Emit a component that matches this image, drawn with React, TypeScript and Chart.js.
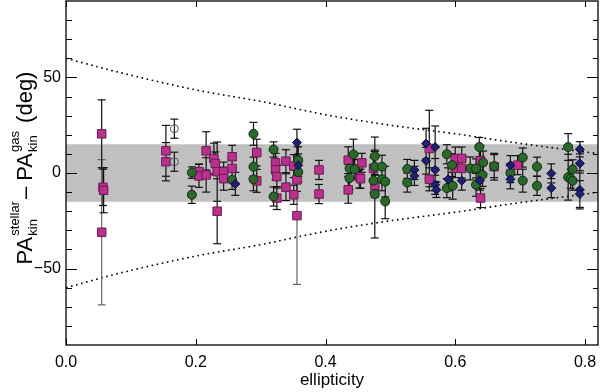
import React, { useEffect, useRef } from "react";
import { Chart, registerables } from "chart.js";

Chart.register(...registerables);

// ---------- axis / decoration values ----------
const xTicks = [0, 0.2, 0.4, 0.6, 0.8];
const yTicks = [-50, 0, 50];
const yMinor = [-80, -70, -60, -40, -30, -20, -10, 10, 20, 30, 40, 60, 70, 80];
const xRange = [0, 0.82];
const yRange = [-90, 90];
const bandHalfWidth = 15;

// dotted envelope
const envEcc = [0, 0.084, 0.207, 0.295, 0.408, 0.5, 0.6, 0.7, 0.8, 0.82];
const envUpper = [60, 52.5, 43, 37.8, 30, 25, 20.5, 15.5, 11, 10.2];
const envLower = [-60, -52.3, -43, -37.8, -30, -25, -20.5, -15.5, -11, -10];

// ---------- magenta squares ----------
const sqEcc = [0.055, 0.057, 0.058, 0.055, 0.154, 0.154, 0.205, 0.205, 0.216, 0.216, 0.228, 0.23, 0.233, 0.233,
  0.243, 0.243, 0.256, 0.256, 0.294, 0.294, 0.323, 0.323, 0.325, 0.325, 0.339, 0.339, 0.351, 0.351, 0.356, 0.356,
  0.39, 0.39, 0.435, 0.435, 0.456, 0.452, 0.454, 0.474, 0.476, 0.56, 0.56, 0.6, 0.6, 0.61, 0.61, 0.639, 0.639, 0.66, 0.696];
const sqDpa = [20.5, -7.5, -9, -31, 11.6, 5.9, 0.7, -1.5, 11.6, -1, 7.6, 5, 0.7, -20,
  0.7, -3, 8.5, 2.4, 10.7, -4.1, 5.3, 1.6, -1.9, -13.1, 6.2, -7.4, 3.6, -11.4, -3.6, -22.3,
  1.6, -11, 6.7, -8.8, 5.3, -1.9, -3, 2.4, -6.7, 12.8, -3.3, 7.6, 2.6, 7.6, 2.4, 6.4, -13.1, 3.3, 4.1];
const sqErr = [17.8, 9.5, 11.8, 38, 13.3, 10, 4, 6, 10, 9, 8, 6, 15.5, 17,
  5, 6, 6, 5, 7, 6, 5, 5, 6, 6, 6, 7, 6, 5, 6, 36,
  5, 5, 7, 7, 5, 6, 5, 6, 6, 20, 6, 6, 5, 6, 5, 8, 5, 7, 5];

// ---------- green circles ----------
const grEcc = [0.194, 0.194, 0.256, 0.289, 0.289, 0.289, 0.32, 0.32, 0.358, 0.358, 0.443, 0.437, 0.437, 0.445,
  0.476, 0.476, 0.476, 0.474, 0.487, 0.487, 0.492, 0.492, 0.526, 0.526, 0.587, 0.595, 0.587, 0.596, 0.623, 0.632,
  0.632, 0.637, 0.643, 0.642, 0.66, 0.685, 0.704, 0.704, 0.726, 0.726, 0.774, 0.774, 0.778, 0.781, 0.781];
const grDpa = [0.2, -11.4, -3.6, 20.5, 3.3, -3.3, 12.3, -12.3, 6.7, 0.5, 9.7, 2.4, -2.7, 2,
  8.8, 3.3, -11, -4, 3.3, -3.3, -4.5, -14.9, 2.1, -5, 9.8, 4.1, -7.9, -6.7, 2.4, 2.4,
  -6.2, 13.6, 5.5, -1, 3.6, 0, 8.1, -4, 3.3, -6.7, 13.6, -2.2, -3, 1.9, -4];
const grErr = [3, 4.5, 5, 6, 5, 6, 4, 5, 7, 5, 8, 6, 6, 5,
  10, 8, 23, 6, 6, 6, 8, 9, 5, 5, 5, 6, 5, 7, 6, 5,
  6, 5, 6, 6, 6, 5, 5, 6, 5, 5, 7, 12, 5, 5, 5];

// ---------- navy diamonds ----------
const nvEcc = [0.261, 0.356, 0.358, 0.537, 0.537, 0.555, 0.555, 0.569, 0.569, 0.569, 0.571, 0.589, 0.61, 0.638,
  0.685, 0.685, 0.748, 0.748, 0.792, 0.792, 0.792, 0.792];
const nvDpa = [-5.7, 15.9, 4, 1.6, -1.5, 15.4, 6.4, 13.6, 1.6, -6.2, -8.8, -3.3, -4, -4,
  4.1, -3.3, -0.2, -7.9, 12.4, 5, -8.8, -11];
const nvErr = [6, 7, 6, 5, 5, 8, 7, 11, 6, 5, 4, 6, 5, 5,
  5, 5, 5, 5, 4, 5, 10, 7];

// ---------- open circles ----------
const opEcc = [0.167, 0.167];
const opDpa = [23.2, 5.9];
const opErr = [5, 5];

const FONT = "'Liberation Sans', Arial, Helvetica, sans-serif";

function pts(xs: number[], ys: number[]) {
  return xs.map((x, i) => ({ x, y: ys[i] }));
}

function errSegments(xs: number[], ys: number[], es: number[], big: boolean) {
  const out: any[] = [];
  xs.forEach((x, i) => {
    const isBig = es[i] > 25;
    if (isBig !== big) return;
    out.push({ x, y: ys[i] - es[i] });
    out.push({ x, y: ys[i] + es[i] });
    out.push({ x, y: null });
  });
  return out;
}

const decorPlugin = {
  id: "decor",
  afterDraw(chart: any) {
    const { ctx, chartArea: a, scales } = chart;
    const x = scales.x;
    const y = scales.y;
    ctx.save();
    ctx.strokeStyle = "#000";
    ctx.lineWidth = 1.3;
    ctx.strokeRect(a.left, a.top, a.right - a.left, a.bottom - a.top);
    const line = (x1: number, y1: number, x2: number, y2: number) => {
      ctx.beginPath();
      ctx.moveTo(x1, y1);
      ctx.lineTo(x2, y2);
      ctx.stroke();
    };
    ctx.lineWidth = 1;
    xTicks.forEach((v) => {
      const px = Math.round(x.getPixelForValue(v)) + 0.5;
      line(px, a.bottom, px, a.bottom - 6);
      line(px, a.top, px, a.top + 6);
    });
    yTicks.forEach((v) => {
      const py = Math.round(y.getPixelForValue(v)) + 0.5;
      line(a.left, py, a.left + 11, py);
      line(a.right, py, a.right - 11, py);
    });
    yMinor.forEach((v) => {
      const py = Math.round(y.getPixelForValue(v)) + 0.5;
      line(a.left, py, a.left + 6, py);
      line(a.right, py, a.right - 5, py);
    });

    // y-axis title with sub/superscripts
    const main = 22;
    const small = 13;
    const segs: any[] = [
      { t: "PA" },
      { sub: "kin", sup: "stellar" },
      { t: "\u2013 " },
      { t: "PA" },
      { sub: "kin", sup: "gas" },
      { t: " (deg)" },
    ];
    const widths = segs.map((s) => {
      if (s.t) {
        ctx.font = `${main}px ${FONT}`;
        return ctx.measureText(s.t).width;
      }
      ctx.font = `${small}px ${FONT}`;
      return Math.max(ctx.measureText(s.sub).width, ctx.measureText(s.sup).width) + 3;
    });
    const total = widths.reduce((p: number, c: number) => p + c, 0);
    ctx.translate(24, 168);
    ctx.rotate(-Math.PI / 2);
    ctx.fillStyle = "#000";
    ctx.textBaseline = "alphabetic";
    ctx.textAlign = "left";
    let cx = -total / 2;
    const base = 8;
    segs.forEach((s, i) => {
      if (s.t) {
        ctx.font = `${main}px ${FONT}`;
        ctx.fillText(s.t, cx, base);
      } else {
        ctx.font = `${small}px ${FONT}`;
        ctx.fillText(s.sub, cx + 1, base + 5);
        ctx.fillText(s.sup, cx + 1, base - 13);
      }
      cx += widths[i];
    });
    ctx.restore();
  },
};

export default function App() {
  const ref = useRef<HTMLCanvasElement | null>(null);
  useEffect(() => {
    if (!ref.current) return;
    const errStyle = (color: string) => ({
      showLine: true,
      spanGaps: false,
      borderColor: color,
      borderWidth: 1.2,
      pointStyle: "line",
      pointRadius: 4,
      pointBorderColor: color,
      pointBorderWidth: 1.2,
      pointBackgroundColor: color,
    });
    const chart = new Chart(ref.current, {
      type: "scatter",
      data: {
        datasets: [
          {
            label: "open",
            data: pts(opEcc, opDpa),
            pointStyle: "circle",
            pointRadius: 4,
            backgroundColor: "rgba(0,0,0,0)",
            borderColor: "#555",
            borderWidth: 1,
          },
          {
            label: "navy",
            data: pts(nvEcc, nvDpa),
            pointStyle: "rectRot",
            pointRadius: 4.5,
            backgroundColor: "#20206e",
            borderColor: "#0a0a3a",
            borderWidth: 1,
          },
          {
            label: "green",
            data: pts(grEcc, grDpa),
            pointStyle: "circle",
            pointRadius: 4.5,
            backgroundColor: "#2c682c",
            borderColor: "#0c2c0c",
            borderWidth: 1,
          },
          {
            label: "magenta",
            data: pts(sqEcc, sqDpa),
            pointStyle: "rect",
            pointRadius: 6,
            backgroundColor: "#b8318c",
            borderColor: "#6e1a52",
            borderWidth: 1,
          },
          {
            label: "errBlack",
            data: [
              ...errSegments(sqEcc, sqDpa, sqErr, false),
              ...errSegments(grEcc, grDpa, grErr, false),
              ...errSegments(nvEcc, nvDpa, nvErr, false),
              ...errSegments(opEcc, opDpa, opErr, false),
            ],
            ...errStyle("#111"),
          } as any,
          {
            label: "errGray",
            data: [
              ...errSegments(sqEcc, sqDpa, sqErr, true),
              ...errSegments(grEcc, grDpa, grErr, true),
              ...errSegments(nvEcc, nvDpa, nvErr, true),
            ],
            ...errStyle("#666"),
          } as any,
          {
            label: "envUpper",
            data: pts(envEcc, envUpper),
            showLine: true,
            borderColor: "#000",
            borderWidth: 1.6,
            borderDash: [1.6, 3.6],
            pointRadius: 0,
            cubicInterpolationMode: "monotone",
          } as any,
          {
            label: "envLower",
            data: pts(envEcc, envLower),
            showLine: true,
            borderColor: "#000",
            borderWidth: 1.6,
            borderDash: [1.6, 3.6],
            pointRadius: 0,
            cubicInterpolationMode: "monotone",
          } as any,
          {
            label: "band",
            data: [
              { x: xRange[0], y: bandHalfWidth },
              { x: xRange[1], y: bandHalfWidth },
            ],
            showLine: true,
            borderWidth: 0,
            pointRadius: 0,
            backgroundColor: "#c0c0c0",
            fill: { value: -bandHalfWidth },
          } as any,
        ],
      },
      options: {
        animation: false,
        responsive: false,
        devicePixelRatio: 1,
        layout: { autoPadding: false, padding: { top: 1, right: 2, left: 0, bottom: 0 } },
        plugins: { legend: { display: false }, tooltip: { enabled: false } },
        scales: {
          x: {
            type: "linear",
            min: xRange[0],
            max: xRange[1],
            grid: { display: false, drawTicks: false },
            border: { display: false },
            afterBuildTicks: (s: any) => {
              s.ticks = xTicks.map((v) => ({ value: v }));
            },
            afterFit: (s: any) => {
              s.height = 47;
              s.paddingLeft = 0;
              s.paddingRight = 0;
            },
            ticks: {
              color: "#000",
              font: { family: FONT, size: 16 },
              padding: 8,
              maxRotation: 0,
              callback: (v: any) => Number(v).toFixed(1),
            },
            title: {
              display: true,
              text: "ellipticity",
              color: "#000",
              font: { family: FONT, size: 17 },
              padding: { top: 0, bottom: 1 },
            },
          },
          y: {
            type: "linear",
            min: yRange[0],
            max: yRange[1],
            grid: { display: false, drawTicks: false },
            border: { display: false },
            afterBuildTicks: (s: any) => {
              s.ticks = yTicks.map((v) => ({ value: v }));
            },
            afterFit: (s: any) => {
              s.width = 66;
              s.paddingTop = 0;
              s.paddingBottom = 0;
            },
            ticks: {
              color: "#000",
              font: { family: FONT, size: 16 },
              padding: 5,
              callback: (v: any) => (Number(v) < 0 ? "\u2212" + Math.abs(Number(v)) : String(v)),
            },
          },
        },
      } as any,
      plugins: [decorPlugin],
    });
    return () => chart.destroy();
  }, []);
  return (
    <div style={{ position: "absolute", left: 0, top: 0, width: 600, height: 392, background: "#fff" }}>
      <canvas ref={ref} width={600} height={392} />
    </div>
  );
}
